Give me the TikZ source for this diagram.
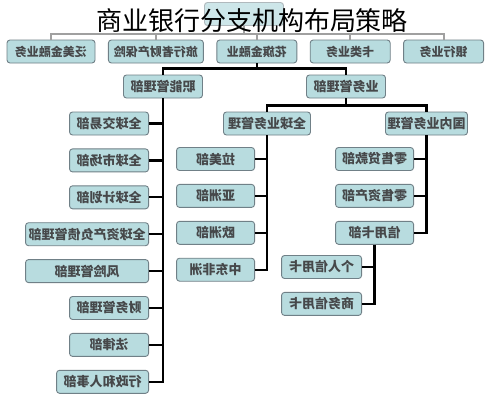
\documentclass[tikz,border=0pt]{standalone}
\usepackage{fontspec}
\usepackage{graphicx}
\usetikzlibrary{positioning}
\newfontfamily\cjk{Noto Sans CJK SC}
\newcommand{\mirtext}[1]{\reflectbox{#1}}
\definecolor{boxfill}{RGB}{184,220,223}
\definecolor{boxline}{RGB}{112,128,135}
\definecolor{boxtext}{RGB}{70,72,74}
\definecolor{linegray}{RGB}{160,160,160}
\tikzset{
    unit/.style={draw=boxline, fill=boxfill, rounded corners=3pt, line width=0.9pt,
        minimum height=23pt, minimum width=79pt, inner sep=2pt, text=boxtext,
        font=\cjk\bfseries\fontsize{13}{13}\selectfont},
    topunit/.style={unit, font=\cjk\bfseries\fontsize{12}{12}\selectfont},
    link/.style={line width=2.2pt, black},
    glink/.style={line width=2pt, linegray},
}

\begin{document}
\begin{tikzpicture}[x=1pt, y=-1pt]
    \fill[white] (0,0) rectangle (504,400);
    \useasboundingbox (0,0) rectangle (504,400);

    % top level
    \node[unit, fill=boxfill!70, draw=boxline!55] (top) at (244,14) {};
    \node[topunit, minimum width=88pt] (fm) at (51,51.5) {\mirtext{泛美金融业务}};
    \node[topunit, minimum width=95pt, right=12.5pt of fm] (lx) {\mirtext{旅行者财产保险}};
    \node[topunit, minimum width=80pt, right=12.5pt of lx] (hq) {\mirtext{花旗金融业}};
    \node[topunit, minimum width=80pt, right=12.5pt of hq] (kl) {\mirtext{卡类业务}};
    \node[topunit, minimum width=80pt, right=12.5pt of kl] (yh) {\mirtext{银行业务}};

    \draw[glink] (top.south) -- ++(0,8) coordinate (tj);
    \foreach \b in {fm,lx,hq,kl,yh}
        \draw[glink] (tj) -| (\b.north);

    \node[font=\cjk\fontsize{26}{26}\selectfont] (title) at (252,21) {商业银行分支机构布局策略};

    % second level
    \node[unit] (zn) at (163,86.5) {\mirtext{职能管理部}};
    \node[unit] (yw) at (346,86.5) {\mirtext{业务管理部}};
    \draw[link] (hq.south) -- ++(0,5) coordinate (hj);
    \draw[link] (hj) -| (zn.north);
    \draw[link] (hj) -| (yw.north);

    \node[unit, minimum width=87pt] (qq) at (267,123.5) {\mirtext{全球业务管理}};
    \node[unit, minimum width=81pt] (gn) at (426.5,123.5) {\mirtext{国内业务管理}};
    \draw[link] (yw.south) -- ++(0,7) coordinate (yj);
    \draw[link] (yj) -| (qq.north);
    \draw[link] (yj) -| (gn.north);

    % functional departments
    \node[unit, anchor=east] (jy) at (149,123.5) {\mirtext{全球交易部}};
    \node[unit, below=13pt of jy.south east, anchor=north east] (sc) {\mirtext{全球市场部}};
    \node[unit, below=13pt of sc.south east, anchor=north east] (jh) {\mirtext{全球计划部}};
    \node[unit, minimum width=123pt, below=13pt of jh.south east, anchor=north east] (zc) {\mirtext{全球资产负债管理部}};
    \node[unit, minimum width=123pt, below=13pt of zc.south east, anchor=north east] (fx) {\mirtext{风险管理部}};
    \node[unit, below=13pt of fx.south east, anchor=north east] (cw) {\mirtext{财务管理部}};
    \node[unit, below=13pt of cw.south east, anchor=north east] (fl) {\mirtext{法律部}};
    \node[unit, minimum width=92pt, below=13pt of fl.south east, anchor=north east] (xz) {\mirtext{行政和人事部}};
    \foreach \c in {jy,sc,jh,zc,fx,cw,fl,xz}
        \draw[link] (zn.south) |- (\c.east);

    % global regions
    \node[unit, minimum width=78pt, anchor=east] (lm) at (255,159) {\mirtext{拉美部}};
    \node[unit, minimum width=78pt, below=13pt of lm.south east, anchor=north east] (yz) {\mirtext{亚洲部}};
    \node[unit, minimum width=78pt, below=13pt of yz.south east, anchor=north east] (oz) {\mirtext{欧洲部}};
    \node[unit, minimum width=78pt, below=13pt of oz.south east, anchor=north east] (zd) {\mirtext{中东非洲}};
    \foreach \c in {lm,yz,oz,zd}
        \draw[link] (qq.south) |- (\c.east);

    % domestic
    \node[unit, minimum width=78pt, anchor=east] (ls) at (414,159) {\mirtext{零售贷款部}};
    \node[unit, minimum width=78pt, below=13pt of ls.south east, anchor=north east] (lz) {\mirtext{零售资产部}};
    \node[unit, minimum width=78pt, below=13pt of lz.south east, anchor=north east] (xy) {\mirtext{信用卡部}};
    \foreach \c in {ls,lz,xy}
        \draw[link] (gn.south) |- (\c.east);

    \node[unit, minimum width=80pt, anchor=east] (gr) at (362,267) {\mirtext{个人信用卡}};
    \node[unit, minimum width=80pt, below=13pt of gr.south east, anchor=north east] (sw) {\mirtext{商务信用卡}};
    \foreach \c in {gr,sw}
        \draw[link] (xy.south) |- (\c.east);
\end{tikzpicture}
\end{document}
